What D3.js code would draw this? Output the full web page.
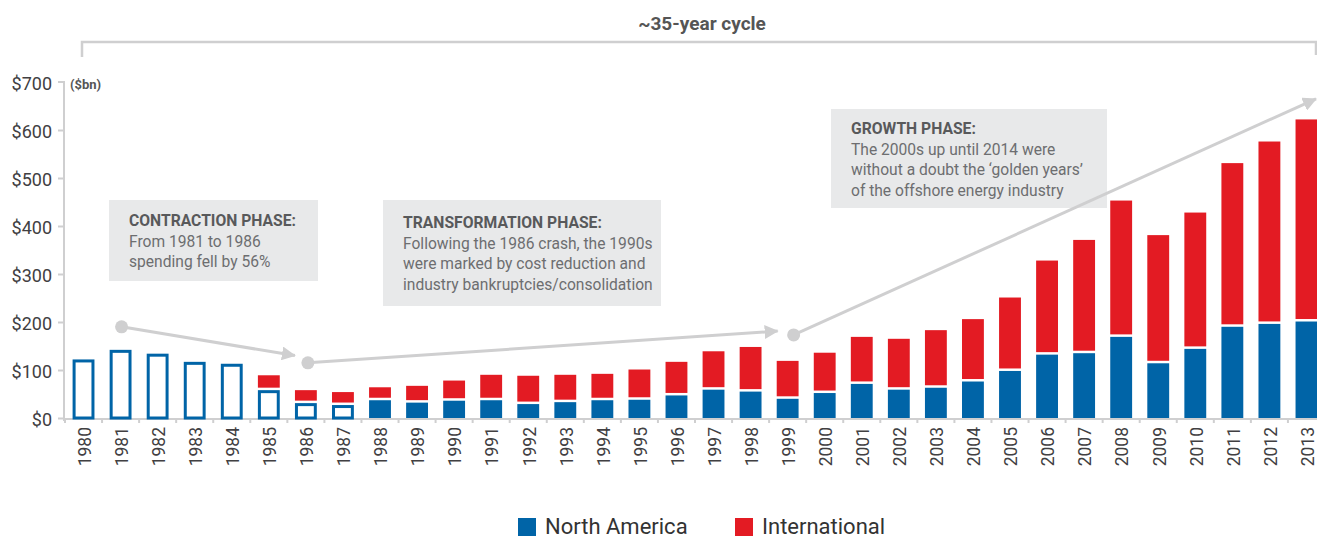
<!DOCTYPE html>
<html>
<head>
<meta charset="utf-8">
<script src="https://cdnjs.cloudflare.com/ajax/libs/d3/7.8.5/d3.min.js"></script>
<style>
  body { margin: 0; background: #fff; }
  svg { font-family: Roboto, "Noto Sans", sans-serif; }
</style>
</head>
<body>
<div id="chart"></div>
<script>
// values, $bn
var years = ["1980","1981","1982","1983","1984","1985","1986","1987","1988","1989",
             "1990","1991","1992","1993","1994","1995","1996","1997","1998","1999",
             "2000","2001","2002","2003","2004","2005","2006","2007","2008","2009",
             "2010","2011","2012","2013"];
var northAmerica = [122,142,134,117,113,58,31,27,37,32,
                    36,37,29,33,37,38,47,59,55,40,
                    52,71,59,63,76,98,132,135,169,114,
                    144,190,196,201];
var international = [0,0,0,0,0,31,27,27,27,35,
                     42,53,59,57,55,63,70,80,93,79,
                     84,98,106,120,130,153,196,236,284,267,
                     284,341,380,421];
var yTicks = [0,100,200,300,400,500,600,700];
var seriesNames = ["North America", "International"];

var width = 1317, height = 539;
var blue = "#0064a7", red = "#e31b23", grey = "#cfcfd0";

var svg = d3.select("#chart").append("svg")
    .attr("width", width)
    .attr("height", height);

var xScale = d3.scaleBand()
    .domain(years)
    .range([65, 1325])
    .paddingInner(0.41)
    .paddingOuter(0.205);

var yScale = d3.scaleLinear()
    .domain([0, 700])
    .range([418, 82]);

var bw = xScale.bandwidth();
var hollowUntil = "1987"; // early years drawn as outlines

// top bracket
svg.append("path")
    .attr("d", "M82,57V42H1316V55")
    .attr("fill", "none")
    .attr("stroke", grey)
    .attr("stroke-width", 2.5);

svg.append("text")
    .attr("x", 702)
    .attr("y", 30)
    .attr("text-anchor", "middle")
    .attr("font-size", 19)
    .attr("font-weight", "bold")
    .attr("fill", "#555")
    .text("~35-year cycle");

// y axis
var yAxis = svg.append("g")
    .attr("class", "yAxis")
    .attr("transform", "translate(64,0)")
    .call(d3.axisLeft(yScale)
        .tickValues(yTicks)
        .tickSize(6)
        .tickPadding(6)
        .tickFormat(function (d) { return "$" + d; }));
yAxis.select(".domain").attr("stroke", grey).attr("stroke-width", 2)
    .attr("d", "M-6,82H0V421");
yAxis.selectAll(".tick line").attr("stroke", grey).attr("stroke-width", 2);
yAxis.selectAll(".tick text")
    .attr("font-size", 18)
    .attr("font-family", "Roboto, sans-serif")
    .attr("fill", "#414042")
    .attr("dy", "0.4em");
yAxis.select(".tick:last-of-type line").remove();

svg.append("text")
    .attr("x", 70)
    .attr("y", 89)
    .attr("font-size", 13)
    .attr("font-weight", "bold")
    .attr("fill", "#555")
    .text("($bn)");

// annotation boxes
var boxes = [
    { x: 109, y: 200, w: 209, h: 81, ty: 226, title: "CONTRACTION PHASE:",
      lines: ["From 1981 to 1986", "spending fell by 56%"] },
    { x: 383, y: 200, w: 278, h: 106, ty: 228, title: "TRANSFORMATION PHASE:",
      lines: ["Following the 1986 crash, the 1990s", "were marked by cost reduction and",
              "industry bankruptcies/consolidation"] },
    { x: 831, y: 109, w: 276, h: 99, ty: 134, title: "GROWTH PHASE:",
      lines: ["The 2000s up until 2014 were", "without a doubt the \u2018golden years\u2019",
              "of the offshore energy industry"] }
];

var box = svg.selectAll(".note")
    .data(boxes)
    .enter()
    .append("g")
    .attr("class", "note");
box.append("rect")
    .attr("x", function (d) { return d.x; })
    .attr("y", function (d) { return d.y; })
    .attr("width", function (d) { return d.w; })
    .attr("height", function (d) { return d.h; })
    .attr("fill", "#e8e9ea");
box.append("text")
    .attr("x", function (d) { return d.x + 20; })
    .attr("y", function (d) { return d.ty; })
    .attr("font-size", 15.7)
    .attr("font-weight", "bold")
    .attr("fill", "#58595b")
    .text(function (d) { return d.title; });
box.each(function (d) {
    d3.select(this).selectAll(".ln")
        .data(d.lines)
        .enter()
        .append("text")
        .attr("x", d.x + 20)
        .attr("y", function (l, i) { return d.ty + 20.5 * (i + 1); })
        .attr("font-size", 15.6)
        .attr("fill", "#6d6e70")
        .text(function (l) { return l; });
});

// arrows
svg.append("defs").append("marker")
    .attr("id", "head")
    .attr("markerUnits", "userSpaceOnUse")
    .attr("markerWidth", 14)
    .attr("markerHeight", 14)
    .attr("refX", 13)
    .attr("refY", 7)
    .attr("orient", "auto")
    .append("path")
    .attr("d", "M0,0L14,7L0,14Z")
    .attr("fill", grey);

var cx = function (y) { return xScale(y) + bw / 2; };
var arrows = [
    { x1: cx("1981") + 1, y1: yScale(190), x2: cx("1986") - 11, y2: yScale(130) },
    { x1: cx("1986") + 2, y1: yScale(115), x2: cx("1999") - 10, y2: yScale(181) },
    { x1: cx("1999") + 6, y1: yScale(173), x2: 1316, y2: yScale(665) }
];
svg.selectAll(".arrow")
    .data(arrows)
    .enter()
    .append("line")
    .attr("class", "arrow")
    .attr("x1", function (d) { return d.x1; })
    .attr("y1", function (d) { return d.y1; })
    .attr("x2", function (d) { return d.x2; })
    .attr("y2", function (d) { return d.y2; })
    .attr("stroke", grey)
    .attr("stroke-width", 3)
    .attr("marker-end", "url(#head)");
svg.selectAll(".dot")
    .data(arrows)
    .enter()
    .append("circle")
    .attr("cx", function (d) { return d.x1; })
    .attr("cy", function (d) { return d.y1; })
    .attr("r", 6.5)
    .attr("fill", grey);

// x axis
var xAxis = svg.append("g")
    .attr("class", "xAxis")
    .attr("transform", "translate(0,419)")
    .call(d3.axisBottom(xScale).tickSize(0).tickFormat(""));
xAxis.select(".domain").attr("stroke", grey).attr("stroke-width", 2)
    .attr("d", "M64,0H1317");

var bounds = years.map(function (y) { return xScale(y) - xScale.step() * xScale.paddingInner() / 2; });
svg.selectAll(".xtick")
    .data(bounds)
    .enter()
    .append("line")
    .attr("x1", function (d) { return d; })
    .attr("x2", function (d) { return d; })
    .attr("y1", 419)
    .attr("y2", 423)
    .attr("stroke", grey)
    .attr("stroke-width", 2);

svg.selectAll(".year")
    .data(years)
    .enter()
    .append("text")
    .attr("class", "year")
    .attr("transform", function (d) { return "translate(" + (cx(d) + 1) + ",427) rotate(-90)"; })
    .attr("text-anchor", "end")
    .attr("dy", "0.36em")
    .attr("font-size", 17.5)
    .attr("fill", "#414042")
    .text(function (d) { return d; });

// bars
var rows = years.map(function (y, i) {
    return { year: y, na: northAmerica[i], intl: international[i] };
});

var bar = svg.selectAll(".bar")
    .data(rows)
    .enter()
    .append("g")
    .attr("class", "bar")
    .attr("transform", function (d) { return "translate(" + xScale(d.year) + ",0)"; });

bar.append("rect")
    .attr("x", function (d) { return d.year <= hollowUntil ? 1.5 : 0; })
    .attr("width", function (d) { return d.year <= hollowUntil ? bw - 3 : bw; })
    .attr("y", function (d) { return yScale(d.na) + (d.year <= hollowUntil ? 1.5 : 0); })
    .attr("height", function (d) { return yScale(0) - yScale(d.na) - (d.year <= hollowUntil ? 1.5 : 0); })
    .attr("fill", function (d) { return d.year <= hollowUntil ? "#fff" : blue; })
    .attr("stroke", function (d) { return d.year <= hollowUntil ? blue : "none"; })
    .attr("stroke-width", 3);

bar.filter(function (d) { return d.intl > 0; })
    .append("rect")
    .attr("x", 0)
    .attr("width", bw)
    .attr("y", function (d) { return yScale(d.na + d.intl); })
    .attr("height", function (d) { return yScale(d.na) - yScale(d.na + d.intl) - 2.5; })
    .attr("fill", red);

// legend
var legend = svg.selectAll(".legend")
    .data(seriesNames)
    .enter()
    .append("g")
    .attr("class", "legend")
    .attr("transform", function (d, i) { return "translate(" + (518 + i * 217) + ",517)"; });
legend.append("rect")
    .attr("y", 1)
    .attr("width", 18)
    .attr("height", 18)
    .attr("fill", function (d, i) { return i === 0 ? blue : red; });
legend.append("text")
    .attr("x", 27)
    .attr("y", 17)
    .attr("font-size", 22)
    .attr("fill", "#333")
    .text(function (d) { return d; });
</script>
</body>
</html>
